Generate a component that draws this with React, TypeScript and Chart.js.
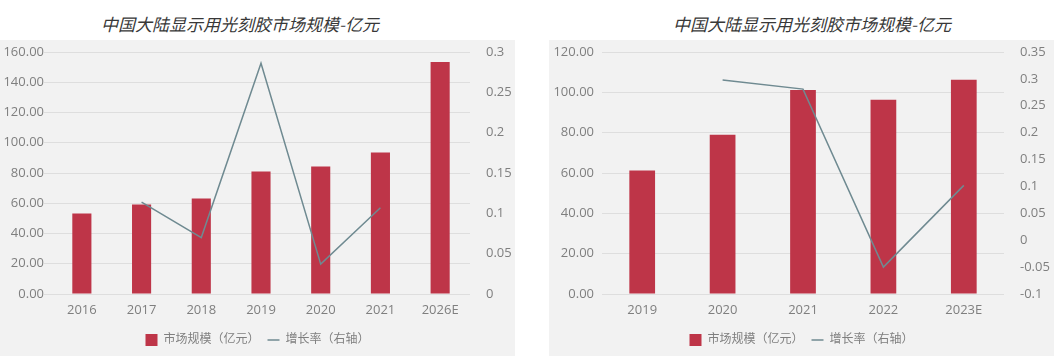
import React, { useEffect, useRef } from "react";
import { Chart, registerables } from "chart.js";

Chart.register(...registerables);

// ---- data ----
const leftCategories = ["2016", "2017", "2018", "2019", "2020", "2021", "2026E"];
const leftMarket = [53.3, 59.2, 63.2, 81.0, 84.3, 93.5, 153.4];
const leftGrowth = [null, 0.114, 0.07, 0.286, 0.037, 0.107, null];

const rightCategories = ["2019", "2020", "2021", "2022", "2023E"];
const rightMarket = [61.2, 79.0, 101.2, 96.3, 106.2];
const rightGrowth = [null, 0.298, 0.281, -0.05, 0.102];

const titleText = "中国大陆显示用光刻胶市场规模-亿元";
const barLabel = "市场规模（亿元）";
const lineLabel = "增长率（右轴）";

const BAR_COLOR = "#BE3548";
const LINE_COLOR = "#6F8A91";
const BG = "#F2F2F2";
const GRID = "#DEDEDE";
const TICK = "#7F7F7F";
const FONT = '"Open Sans", "Noto Sans CJK SC", sans-serif';

type PanelProps = {
  categories: string[];
  market: number[];
  growth: (number | null)[];
  leftMax: number;
  rightMin: number;
  rightMax: number;
  width: number;
  height: number;
  leftAxisW: number;
  rightAxisW: number;
  gridExtend: number;
};

function fmtRight(v: number) {
  return String(parseFloat(Number(v).toFixed(2)));
}

function ChartPanel(p: PanelProps) {
  const ref = useRef<HTMLCanvasElement | null>(null);
  useEffect(() => {
    if (!ref.current) return;
    const chart = new Chart(ref.current, {
      type: "bar",
      data: {
        labels: p.categories,
        datasets: [
          {
            type: "bar",
            label: barLabel,
            data: p.market,
            backgroundColor: BAR_COLOR,
            borderWidth: 0,
            yAxisID: "y",
            order: 1,
            barPercentage: 0.32,
            categoryPercentage: 1,
            pointStyle: "rect",
          } as any,
          {
            type: "line",
            label: lineLabel,
            data: p.growth,
            borderColor: LINE_COLOR,
            backgroundColor: LINE_COLOR,
            borderWidth: 1.5,
            pointRadius: 0,
            tension: 0,
            yAxisID: "y1",
            order: 0,
            pointStyle: "line",
            spanGaps: false,
          } as any,
        ],
      },
      options: {
        responsive: false,
        animation: false,
        layout: { padding: { top: 12, bottom: 0, left: 0, right: 0 } },
        plugins: {
          legend: {
            position: "bottom",
            labels: {
              usePointStyle: true,
              pointStyleWidth: 12,
              boxHeight: 12,
              padding: 8,
              color: TICK,
              font: { family: FONT, size: 12 },
              sort: (a: any, b: any) => a.datasetIndex - b.datasetIndex,
            },
          },
          tooltip: { enabled: false },
        },
        scales: {
          x: {
            grid: { display: false },
            border: { display: false },
            ticks: { color: TICK, font: { family: FONT, size: 13 }, padding: 0 },
            afterFit: (s: any) => {
              s.height = 32;
              s.paddingLeft = 0;
              s.paddingRight = 0;
            },
          },
          y: {
            position: "left",
            min: 0,
            max: p.leftMax,
            grid: {
              color: GRID,
              drawTicks: p.gridExtend > 0,
              tickLength: p.gridExtend,
            },
            border: { display: false },
            ticks: {
              stepSize: 20,
              color: TICK,
              font: { family: FONT, size: 13 },
              padding: Math.max(0, 8 - p.gridExtend),
              callback: (v: any) => Number(v).toFixed(2),
            },
            afterFit: (s: any) => {
              s.width = p.leftAxisW;
              s.paddingTop = 0;
              s.paddingBottom = 0;
            },
          },
          y1: {
            position: "right",
            min: p.rightMin,
            max: p.rightMax,
            grid: { display: false },
            border: { display: false },
            ticks: {
              stepSize: 0.05,
              color: TICK,
              font: { family: FONT, size: 13 },
              padding: 8,
              callback: (v: any) => fmtRight(v),
            },
            afterFit: (s: any) => {
              s.width = p.rightAxisW;
              s.paddingTop = 0;
              s.paddingBottom = 0;
            },
          },
        },
      } as any,
    });
    return () => chart.destroy();
  }, []);
  return (
    <canvas
      ref={ref}
      width={p.width}
      height={p.height}
      style={{ width: p.width, height: p.height, display: "block" }}
    />
  );
}

const titleStyle: React.CSSProperties = {
  position: "absolute",
  top: 12,
  width: 400,
  textAlign: "center",
  fontFamily: '"Noto Sans CJK SC", sans-serif',
  fontStyle: "italic",
  fontSize: 17,
  lineHeight: "24px",
  color: "#383838",
};

export default function App() {
  return (
    <div
      style={{
        position: "absolute",
        left: 0,
        top: 0,
        width: 1056,
        height: 356,
        background: "#FFFFFF",
        overflow: "hidden",
      }}
    >
      <div style={{ ...titleStyle, left: 40 }}>{titleText}</div>
      <div style={{ ...titleStyle, left: 612 }}>{titleText}</div>
      <div style={{ position: "absolute", left: 0, top: 40, width: 515, height: 316, background: BG }}>
        <ChartPanel
          categories={leftCategories}
          market={leftMarket}
          growth={leftGrowth}
          leftMax={160}
          rightMin={0}
          rightMax={0.3}
          width={515}
          height={316}
          leftAxisW={52}
          rightAxisW={45}
          gridExtend={8}
        />
      </div>
      <div style={{ position: "absolute", left: 549, top: 40, width: 505, height: 316, background: BG }}>
        <ChartPanel
          categories={rightCategories}
          market={rightMarket}
          growth={rightGrowth}
          leftMax={120}
          rightMin={-0.1}
          rightMax={0.35}
          width={505}
          height={316}
          leftAxisW={53}
          rightAxisW={50}
          gridExtend={0}
        />
      </div>
    </div>
  );
}
